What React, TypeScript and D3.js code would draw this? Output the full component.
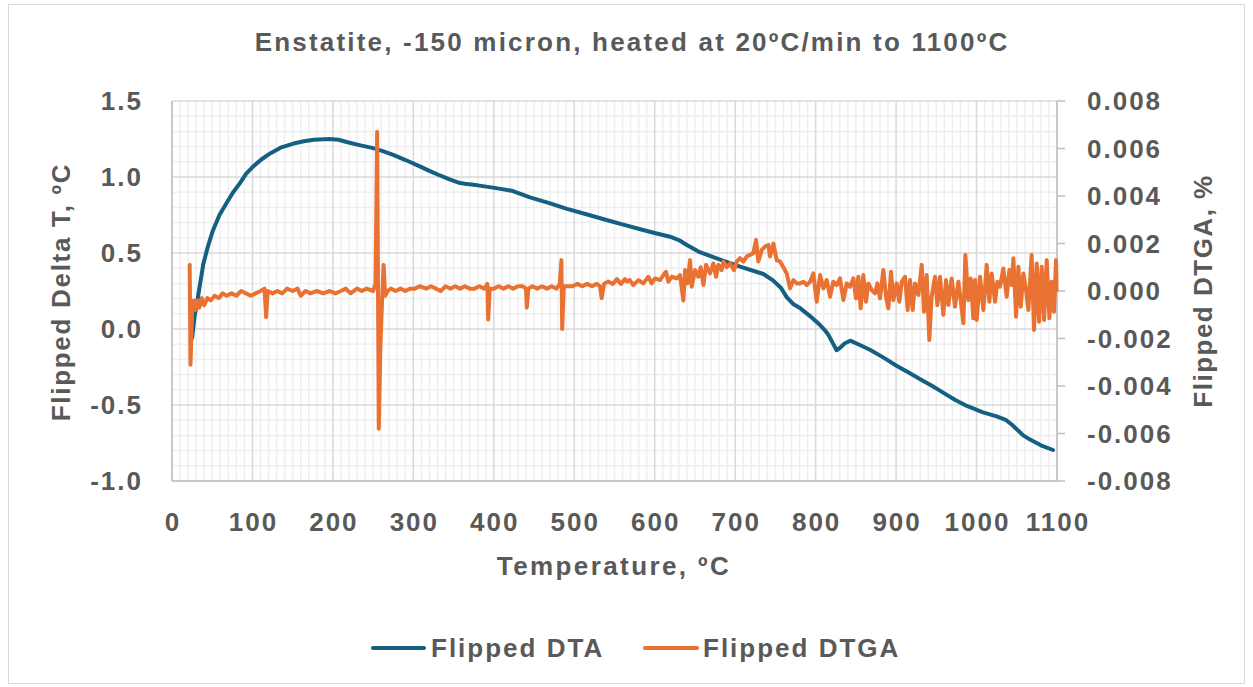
import * as d3 from 'd3';
import React from 'react';

// Flipped DTA: [temperature °C, delta T °C]
const dtaPoints: [number, number][] = [
  [25, -0.06], [28, 0.08], [31, 0.17], [35, 0.3], [39, 0.43], [45, 0.55], [51, 0.65], [59, 0.75],
  [68, 0.83], [76, 0.9], [84.5, 0.96], [92, 1.02], [101, 1.07], [111, 1.115], [122, 1.155],
  [136, 1.195], [151, 1.22], [164, 1.235], [176, 1.245], [196, 1.25], [207, 1.245], [217, 1.23],
  [233, 1.21], [250, 1.19], [262, 1.17], [275, 1.145], [291, 1.11], [308, 1.07], [320, 1.04],
  [333, 1.01], [345, 0.985], [358, 0.96], [364, 0.955], [380, 0.945], [399, 0.93], [422, 0.91],
  [445, 0.866], [468, 0.83], [491, 0.79], [515, 0.755], [540, 0.717], [562, 0.685], [582, 0.656],
  [600, 0.632], [619, 0.607], [630, 0.585], [640, 0.553], [656, 0.505], [677, 0.465], [706, 0.41],
  [735, 0.362], [747, 0.32], [757, 0.27], [764, 0.21], [772, 0.165], [781, 0.136], [793, 0.085],
  [805.5, 0.026], [811, -0.005], [816, -0.04], [821, -0.09], [826, -0.14], [830, -0.125],
  [836, -0.095], [843, -0.077], [855, -0.105], [868, -0.138], [885, -0.19], [901, -0.243],
  [915, -0.285], [930, -0.33], [945, -0.375], [959, -0.42], [973, -0.465], [988, -0.506],
  [1008, -0.548], [1025, -0.575], [1037, -0.6], [1044, -0.63], [1050, -0.66], [1058, -0.7],
  [1066, -0.726], [1080, -0.765], [1095, -0.796],
];

// Flipped DTGA: [temperature °C, %]
const dtgaPoints: [number, number][] = [
  [22, 0.0011], [23, -0.0031], [25, -0.0008], [27, -0.0004], [29, -0.0008], [31, -0.0004],
  [34, -0.0007], [37, -0.0003], [40, -0.0006], [44, -0.0003], [48, -0.0004], [53, -0.0002],
  [58, -0.0003], [63, -0.0001], [68, -0.0002], [74, -0.0001], [80, -0.0002], [86, 0.0],
  [92, -0.0001], [98, -0.0002], [104, -0.0001], [110, 0.0], [115, 0.0001], [117, -0.0011],
  [119, 0.0], [125, -0.0001], [131, 0.0], [137, -0.0001], [143, 0.0001], [150, 0.0],
  [156, 0.0001], [160, -0.0002], [166, 0.0], [172, -0.0001], [180, 0.0], [188, -0.0001],
  [196, 0.0], [203, -0.0001], [210, 0.0], [216, 0.0001], [222, -0.0001], [230, 0.0001],
  [236, 0.0], [242, 0.0001], [250, 0.0], [253, 0.0003], [255, 0.0067], [257, -0.0058],
  [259, -0.0024], [261, -0.0005], [263, 0.0011], [265, -0.0002], [268, 0.0], [272, 0.0001],
  [278, 0.0], [284, 0.0001], [290, 0.0], [296, 0.0001], [302, 0.0001], [308, 0.0002],
  [316, 0.0001], [322, 0.0002], [328, 0.0001], [334, 0.0], [340, 0.0002], [346, 0.0001],
  [352, 0.0002], [358, 0.0001], [364, 0.0002], [370, 0.0001], [376, 0.0001], [382, 0.0002],
  [388, 0.0001], [392, 0.0003], [393, -0.0012], [395, 0.0001], [400, 0.0001], [406, 0.0002],
  [412, 0.0001], [418, 0.0002], [424, 0.0001], [430, 0.0002], [436, 0.0002], [440, 0.0001],
  [441, -0.0007], [443, 0.0001], [448, 0.0002], [454, 0.0001], [460, 0.0002], [466, 0.0001],
  [472, 0.0002], [478, 0.0001], [482, 0.0003], [484, 0.0013], [485, -0.0016], [487, 0.0002],
  [492, 0.0002], [498, 0.0002], [504, 0.0003], [510, 0.0002], [516, 0.0003], [522, 0.0002],
  [528, 0.0003], [532, 0.0002], [534, -0.0003], [537, 0.0003], [542, 0.0004], [548, 0.0003],
  [553, 0.0005], [558, 0.0003], [563, 0.0005], [566, 0.0004],
  [569, 0.00046], [573.4, 0.00025], [579.7, 0.00046], [585.9, 0.00032], [592.1, 0.0006],
  [596.2, 0.00032], [600.4, 0.00053], [606.6, 0.00046], [610.7, 0.00067], [614, 0.00081],
  [617, 0.00039], [621.1, 0.0006], [627.3, 0.00053], [631.4, 0.00067], [635.6, -0.0004],
  [637.7, 0.00088], [640.6, 0.00032], [643.9, 0.0013], [646, 0.00018], [650.1, 0.00088],
  [654.2, 0.0006], [657.1, 0.001], [660.5, 0.00025], [663.8, 0.0011], [668.7, 0.00074],
  [672.9, 0.00116], [676.2, 0.0006], [679.1, 0.0011], [683.2, 0.00088], [685.3, 0.00124],
  [689.5, 0.001], [693.6, 0.00116], [698.6, 0.00088], [701.9, 0.00124], [706, 0.00138],
  [710.2, 0.00124], [714.3, 0.00145], [718.5, 0.00152], [722.6, 0.00159], [725.9, 0.00215],
  [728.8, 0.00124], [733, 0.00173], [737.1, 0.00187], [741.2, 0.00194], [743.3, 0.00145],
  [747.5, 0.002], [751.6, 0.0013], [755.8, 0.00124], [759.9, 0.001], [764, 0.00074],
  [768.2, 0.00011], [772.3, 0.00046], [776.5, 0.00032], [780.6, 0.00032], [784.8, 0.00039],
  [788.9, 0.00025], [793.1, 0.00039], [797.2, 0.00074], [801.3, -0.00045], [805.5, 0.00067],
  [809.6, 0.00011], [813.8, 0.00046], [817.9, -0.00024], [822, 0.00039], [826.2, 0.00025],
  [830.3, 0.00053], [834.5, -0.00038], [838.6, 0.00032], [842.7, 0.00018],
  [846.9, 0.00053], [850.2, -0.00031], [853.1, 0.0006], [856, -0.00073], [859.3, 0.00067],
  [862.6, -0.00045], [865.5, 0.00032], [869.7, 0.00004], [873.8, -0.0001], [876.7, 0.00032],
  [880, -0.00031], [884.2, 0.00088], [887.5, -0.00024], [890.4, -0.00073], [893.7, 0.00081],
  [896.6, -0.00038], [900.7, 0.00032], [904, -0.00045], [907, 0.00039], [911.1, 0.0006],
  [914.4, -0.0008], [917.3, 0.00046], [920.6, -0.0008], [923.5, 0.00032], [927.7, -0.00017],
  [931.8, 0.0011], [934.7, -0.00087], [938, 0.00067], [941.3, -0.00206], [944.2, -0.00024],
  [948.4, 0.0006], [951.3, -0.00059], [954.6, 0.0006], [958.7, -0.001], [962.1, 0.00046],
  [965, -0.00059], [969.1, 0.00053], [973.2, -0.00066], [977.4, 0.00039], [980.3, -0.00038],
  [983.6, -0.00136], [986.1, 0.00152], [989.8, -0.00038], [992.7, 0.00053], [996, -0.00115],
  [998.1, 0.00046], [1000.2, -0.00122], [1004.3, 0.0006], [1008.5, -0.0008], [1012.6, 0.0011],
  [1015.9, -0.00045], [1018.8, 0.00074], [1023, -0.00045], [1025.9, 0.00039], [1029.2, 0.00018],
  [1033.3, 0.00095], [1037.5, -0.00024], [1040.8, 0.00088], [1043.7, 0.00025], [1045.8, 0.00138],
  [1049.1, -0.00108], [1052, 0.00102], [1055, -0.00066], [1058.2, 0.00074], [1061.5, 0.00004],
  [1064.4, -0.0008], [1068.5, 0.00152], [1071.4, -0.00164], [1074.8, 0.00116], [1077.7, -0.00129],
  [1081, 0.00102], [1083.9, -0.00122], [1087.2, 0.0013], [1090.5, -0.00115], [1093.4, 0.00039],
  [1096.3, -0.00087], [1098.8, 0.0013], [1099.5, 0.00004],
];

const xTicks = [0, 100, 200, 300, 400, 500, 600, 700, 800, 900, 1000, 1100];
const leftTicks = [-1.0, -0.5, 0.0, 0.5, 1.0, 1.5];
const rightTicks = [-0.008, -0.006, -0.004, -0.002, 0, 0.002, 0.004, 0.006, 0.008];

const W = 1253;
const H = 687;
const plot = { left: 172, right: 1057, top: 101, bottom: 481 };
const textColor = '#595959';
const font = '"Liberation Sans", Arial, sans-serif';
const blue = '#156082';
const orange = '#E97132';
const fmt = (spec: string) => (v: number) => d3.format(spec)(v).replace('\u2212', '-');

const App: React.FC = () => {
  const x = d3.scaleLinear().domain([0, 1100]).range([plot.left, plot.right]);
  const yL = d3.scaleLinear().domain([-1, 1.5]).range([plot.bottom, plot.top]);
  const yR = d3.scaleLinear().domain([-0.008, 0.008]).range([plot.bottom, plot.top]);

  const minorX = d3.range(0, 1101, 10).filter(v => v % 100 !== 0);
  const minorY = d3.range(-10, 16, 1).map(v => v / 10).filter(v => Math.abs(v * 2 - Math.round(v * 2)) > 1e-6);

  const dtaLine = d3.line<[number, number]>().x(d => x(d[0])).y(d => yL(d[1]));
  const dtgaLine = d3.line<[number, number]>().x(d => x(d[0])).y(d => yR(d[1]));

  return (
    <div style={{ position: 'absolute', left: 0, top: 0 }}>
      <svg width={W} height={H} style={{ display: 'block', fontFamily: font }}>
        <rect x={0} y={0} width={W} height={H} fill="#fff" />
        <rect x={8.5} y={4.5} width={1236} height={679} fill="none" stroke="#d9d9d9" />

        <text x={632} y={51} textAnchor="middle" fontSize={26} fontWeight="bold" fill={textColor} letterSpacing={2.2}>
          Enstatite, -150 micron, heated at 20ºC/min to 1100ºC
        </text>

        {/* minor grid */}
        <g stroke="#efefef" strokeWidth={1.5}>
          {minorX.map(v => (
            <line key={'mx' + v} x1={x(v)} x2={x(v)} y1={plot.top} y2={plot.bottom} />
          ))}
          {minorY.map(v => (
            <line key={'my' + v} x1={plot.left} x2={plot.right} y1={yL(v)} y2={yL(v)} />
          ))}
        </g>
        {/* major grid */}
        <g stroke="#d9d9d9" strokeWidth={1.5}>
          {xTicks.map(v => (
            <line key={'gx' + v} x1={x(v)} x2={x(v)} y1={plot.top} y2={plot.bottom} />
          ))}
          {leftTicks.map(v => (
            <line key={'gy' + v} x1={plot.left} x2={plot.right} y1={yL(v)} y2={yL(v)} />
          ))}
        </g>

        {/* axis lines */}
        <g stroke="#bfbfbf" strokeWidth={1.5}>
          <line x1={plot.left} x2={plot.left} y1={plot.top} y2={plot.bottom} />
          <line x1={plot.left} x2={plot.right} y1={plot.bottom} y2={plot.bottom} />
          <line x1={plot.right} x2={plot.right} y1={plot.top} y2={plot.bottom} />
          {rightTicks.map(v => (
            <line key={'rt' + v} x1={plot.right} x2={plot.right + 8} y1={yR(v)} y2={yR(v)} />
          ))}
        </g>

        <path d={dtaLine(dtaPoints) ?? ''} fill="none" stroke={blue} strokeWidth={4} strokeLinejoin="round" strokeLinecap="round" />
        <path d={dtgaLine(dtgaPoints) ?? ''} fill="none" stroke={orange} strokeWidth={4} strokeLinejoin="round" strokeLinecap="round" />

        {/* tick labels */}
        <g fontSize={26} fontWeight="bold" fill={textColor} letterSpacing={2}>
          {xTicks.map(v => (
            <text key={'xl' + v} x={x(v) + 1} y={531} textAnchor="middle">{v}</text>
          ))}
          {leftTicks.map(v => (
            <text key={'ll' + v} x={143} y={yL(v) + 9} textAnchor="end">{fmt('.1f')(v)}</text>
          ))}
          {rightTicks.map(v => (
            <text key={'rl' + v} x={1087} y={yR(v) + 9} textAnchor="start">{fmt('.3f')(v)}</text>
          ))}
        </g>

        {/* axis titles */}
        <g fontSize={26} fontWeight="bold" fill={textColor}>
          <text x={614} y={575} textAnchor="middle" letterSpacing={2.4}>Temperature, ºC</text>
          <text transform="translate(70,292) rotate(-90)" textAnchor="middle" letterSpacing={1.7}>Flipped Delta T, ºC</text>
          <text transform="translate(1212,291) rotate(-90)" textAnchor="middle" letterSpacing={1.5}>Flipped DTGA, %</text>
        </g>

        {/* legend */}
        <g fontSize={26} fontWeight="bold" fill={textColor} letterSpacing={2}>
          <line x1={373} x2={424} y1={648} y2={648} stroke={blue} strokeWidth={4} strokeLinecap="round" />
          <text x={431} y={657}>Flipped DTA</text>
          <line x1={645} x2={697} y1={648} y2={648} stroke={orange} strokeWidth={4} strokeLinecap="round" />
          <text x={703} y={657}>Flipped DTGA</text>
        </g>
      </svg>
    </div>
  );
};

export default App;
